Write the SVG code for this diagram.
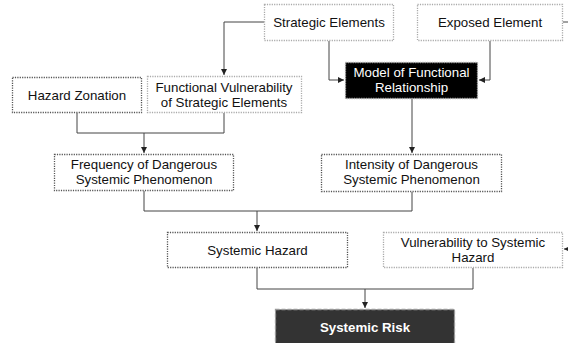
<svg xmlns="http://www.w3.org/2000/svg" width="568" height="343" viewBox="0 0 568 343">
<style>
.dk{fill:#fff;stroke:#555;stroke-width:1.3;stroke-dasharray:1.2 1.2}
.lt{fill:#fff;stroke:#aaa;stroke-width:1.3;stroke-dasharray:1.2 1.2}
.blk{fill:#000;stroke:#aaa;stroke-width:1.3;stroke-dasharray:1.2 1.2}
.risk{fill:#333;stroke:#999;stroke-width:1.3;stroke-dasharray:4 2}
text{font-family:"Liberation Sans",Arial,sans-serif;font-size:13.3px;fill:#111;text-anchor:middle}
.w{fill:#fff}
.b{font-weight:bold}
.c{fill:none;stroke:#444;stroke-width:1}
</style>
<defs>
<marker id="ar" markerWidth="6" markerHeight="6" refX="6" refY="3" orient="auto" markerUnits="userSpaceOnUse">
<path d="M0,0 L6,3 L0,6 Z" fill="#222"/>
</marker>
</defs>
<g id="connectors">
<path class="c" d="M264,22 H224 V75" marker-end="url(#ar)"/>
<path class="c" d="M329,41 V80 H344" marker-end="url(#ar)"/>
<path class="c" d="M490,41 V80 H479" marker-end="url(#ar)"/>
<path class="c" d="M563,22 H568"/>
<path class="c" d="M77,113 V133 H224 V113"/>
<path class="c" d="M144,133 V153" marker-end="url(#ar)"/>
<path class="c" d="M412,99 V153" marker-end="url(#ar)"/>
<path class="c" d="M144,191 V211 H412 V192"/>
<path class="c" d="M257,211 V231" marker-end="url(#ar)"/>
<path class="c" d="M257,268 V289 H473 V268"/>
<path class="c" d="M365,289 V308" marker-end="url(#ar)"/>
<path class="c" d="M568,249 H564" marker-end="url(#ar)"/>
</g>
<g id="strategic-elements">
<rect class="lt" x="264.5" y="4.5" width="129" height="36"/>
<text x="329" y="27">Strategic Elements</text>
</g>
<g id="exposed-element">
<rect class="lt" x="417.5" y="4.5" width="145" height="36"/>
<text x="490" y="27">Exposed Element</text>
</g>
<g id="model-functional-relationship">
<rect class="blk" x="345.5" y="62.5" width="132" height="36"/>
<text class="w" x="411.5" y="77">Model of Functional</text>
<text class="w" x="411.5" y="92">Relationship</text>
</g>
<g id="hazard-zonation">
<rect class="dk" x="12.5" y="77.5" width="129" height="35"/>
<text x="77" y="99.5">Hazard Zonation</text>
</g>
<g id="functional-vulnerability">
<rect class="lt" x="147.5" y="76.5" width="154" height="36"/>
<text x="224" y="92">Functional Vulnerability</text>
<text x="224" y="107">of Strategic Elements</text>
</g>
<g id="frequency">
<rect class="dk" x="54.5" y="154.5" width="179" height="36"/>
<text x="144" y="169">Frequency of Dangerous</text>
<text x="144" y="184">Systemic Phenomenon</text>
</g>
<g id="intensity">
<rect class="dk" x="321.5" y="154.5" width="180" height="37"/>
<text x="411.5" y="169">Intensity of Dangerous</text>
<text x="411.5" y="184">Systemic Phenomenon</text>
</g>
<g id="systemic-hazard">
<rect class="dk" x="167.5" y="232.5" width="180" height="35"/>
<text x="257.5" y="254.5">Systemic Hazard</text>
</g>
<g id="vulnerability-systemic-hazard">
<rect class="lt" x="383.5" y="232.5" width="179" height="35"/>
<text x="473" y="247">Vulnerability to Systemic</text>
<text x="473" y="262">Hazard</text>
</g>
<g id="systemic-risk">
<rect class="risk" x="275.5" y="309.5" width="179" height="38"/>
<text class="w b" x="365" y="332">Systemic Risk</text>
</g>
</svg>
